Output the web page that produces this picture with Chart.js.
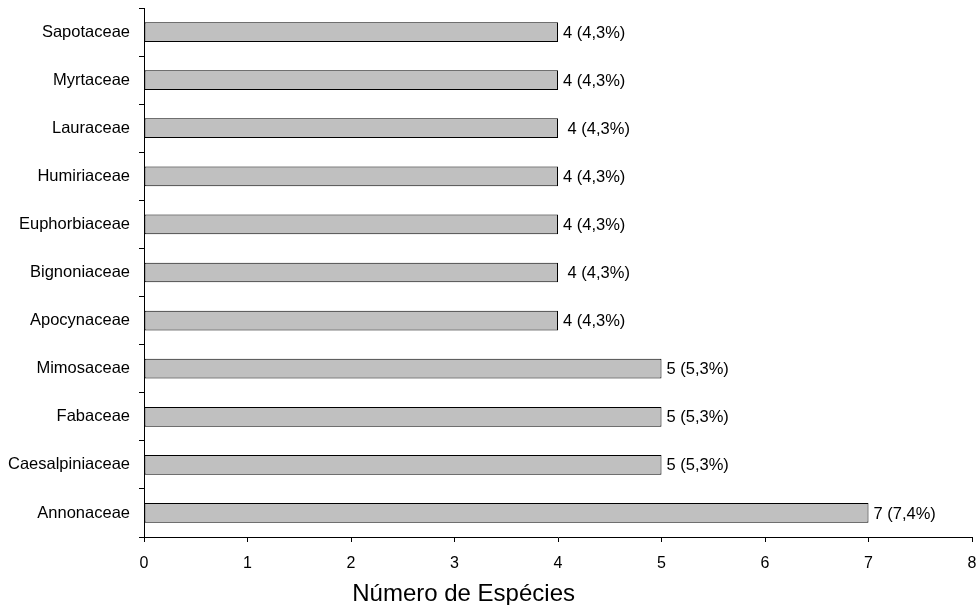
<!DOCTYPE html>
<html>
<head>
<meta charset="utf-8">
<script src="https://cdn.jsdelivr.net/npm/chart.js@4"></script>
<style>
  html, body { margin: 0; padding: 0; background: #fff; }
  #wrap { width: 977px; height: 605px; }
</style>
</head>
<body>
<div id="wrap"><canvas id="chart"></canvas></div>
<script>
// --- data (top to bottom) ---
const families = ['Sapotaceae', 'Myrtaceae', 'Lauraceae', 'Humiriaceae', 'Euphorbiaceae',
  'Bignoniaceae', 'Apocynaceae', 'Mimosaceae', 'Fabaceae', 'Caesalpiniaceae', 'Annonaceae'];
const species = [4, 4, 4, 4, 4, 4, 4, 5, 5, 5, 7];
const valueLabels = ['4 (4,3%)', '4 (4,3%)', ' 4 (4,3%)', '4 (4,3%)', '4 (4,3%)',
  ' 4 (4,3%)', '4 (4,3%)', '5 (5,3%)', '5 (5,3%)', '5 (5,3%)', '7 (7,4%)'];
const xTitle = 'Número de Espécies';

const FONT = '"Liberation Sans", Arial, sans-serif';

// write "n (x%)" just right of each bar
const endLabels = {
  id: 'endLabels',
  afterDatasetsDraw(chart) {
    const c = chart.ctx;
    const meta = chart.getDatasetMeta(0);
    c.save();
    c.font = '16.5px ' + FONT;
    c.fillStyle = '#000';
    c.textAlign = 'left';
    c.textBaseline = 'middle';
    meta.data.forEach((bar, i) => {
      c.fillText(valueLabels[i], bar.x + 5, bar.y + 1);
    });
    c.restore();
  }
};

// axis title sits left of centre in the original
const axisTitle = {
  id: 'axisTitle',
  afterDraw(chart) {
    const c = chart.ctx;
    const a = chart.chartArea;
    c.save();
    c.font = '24px ' + FONT;
    c.fillStyle = '#000';
    c.textAlign = 'center';
    c.textBaseline = 'alphabetic';
    c.fillText(xTitle, a.left + (a.right - a.left) * 0.386, chart.height - 4);
    c.restore();
  }
};

new Chart(document.getElementById('chart'), {
  type: 'bar',
  data: {
    labels: families,
    datasets: [{
      data: species,
      backgroundColor: '#c0c0c0',
      borderColor: '#000',
      borderWidth: 1,
      borderSkipped: false,
      barPercentage: 0.41,
      categoryPercentage: 1
    }]
  },
  options: {
    indexAxis: 'y',
    responsive: true,
    maintainAspectRatio: false,
    animation: false,
    layout: { padding: { top: 8, right: 5, left: 0, bottom: 0 } },
    plugins: {
      legend: { display: false },
      tooltip: { enabled: false }
    },
    scales: {
      x: {
        min: 0,
        max: 8,
        ticks: { stepSize: 1, color: '#000', padding: 12, font: { family: FONT, size: 16 } },
        grid: { drawOnChartArea: false, drawTicks: true, tickLength: 5, color: '#000' },
        border: { color: '#000', width: 1 },
        afterFit(scale) {
          scale.height = 68;
          scale.paddingLeft = 0;
          scale.paddingRight = 0;
        }
      },
      y: {
        ticks: { color: '#000', padding: 9, font: { family: FONT, size: 16.5 } },
        grid: { drawOnChartArea: false, drawTicks: true, tickLength: 5, color: '#000', offset: true },
        border: { color: '#000', width: 1 },
        afterFit(scale) {
          scale.width = 144;
          scale.paddingTop = 0;
          scale.paddingBottom = 0;
        }
      }
    }
  },
  plugins: [endLabels, axisTitle]
});
</script>
</body>
</html>
